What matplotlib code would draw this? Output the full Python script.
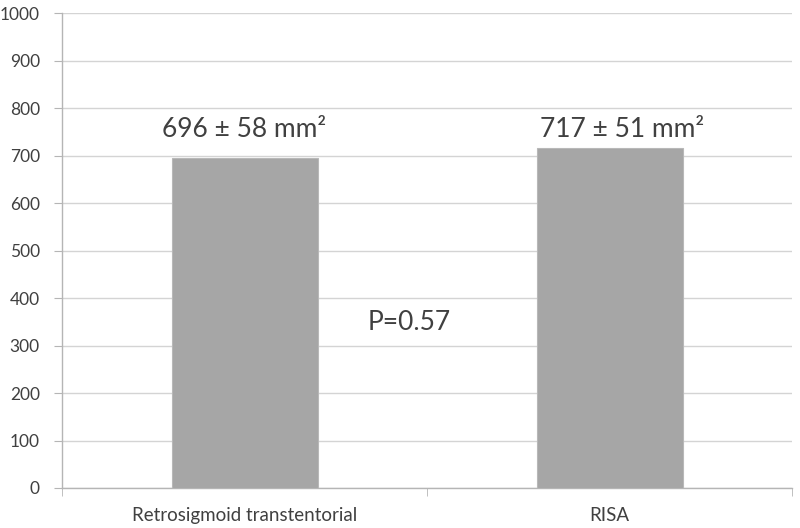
import matplotlib.pyplot as plt
import numpy as np

plt.rcParams["font.family"] = ["Lato", "DejaVu Sans"]

categories = ["Retrosigmoid transtentorial", "RISA"]
means = [696, 717]
sds = [58, 51]
p_value = 0.57
y_ticks = list(range(0, 1001, 100))

bar_color = "#a6a6a6"
text_color = "#404040"
axis_color = "#b5b5b5"
grid_color = "#d4d4d4"

fig = plt.figure(figsize=(8, 5.28), dpi=100)
ax = fig.add_axes([0.0775, 0.0758, 0.9125, 0.899])

x = np.arange(len(categories))
ax.bar(x, means, width=0.4, color=bar_color, edgecolor="#b8b8b8", linewidth=0.8, zorder=3)

ax.set_xlim(-0.5, len(categories) - 0.5)
ax.set_ylim(0, 1000)
ax.set_yticks(y_ticks)
ax.set_xticks(x)
ax.set_xticklabels(categories)
ax.set_xticks(np.arange(len(categories) + 1) - 0.5, minor=True)

ax.grid(axis="y", color=grid_color, linewidth=1, zorder=0)
ax.set_axisbelow(True)

for side in ["top", "right"]:
    ax.spines[side].set_visible(False)
for side in ["left", "bottom"]:
    ax.spines[side].set_color(axis_color)
    ax.spines[side].set_linewidth(1)

ax.tick_params(axis="y", length=6, color=axis_color, labelsize=12.5, labelcolor=text_color, pad=10)
ax.tick_params(axis="x", which="major", length=0, labelsize=13.5, labelcolor=text_color, pad=14)
ax.tick_params(axis="x", which="minor", length=6, color=axis_color)

# value labels above bars
offsets = [0.0, 0.035]
for xi, m, s, dx in zip(x, means, sds, offsets):
    ax.text(xi + dx, 756, f"{m} \u00b1 {s} mm\u00b2", ha="center", va="center",
            fontsize=19, color=text_color)

ax.text(0.45, 349, f"P={p_value}", ha="center", va="center", fontsize=19, color=text_color)

fig.savefig("out.png", dpi=100)
